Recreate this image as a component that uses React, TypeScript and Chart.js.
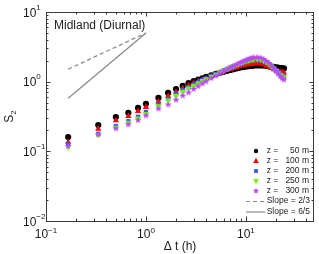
import React, { useEffect, useRef } from 'react';
import { Chart, registerables } from 'chart.js';
Chart.register(...registerables);

// time lags (hours)
const dtHours = [1 / 6, 1 / 3, 1 / 2, 2 / 3, 5 / 6, 1, 4 / 3, 5 / 3, 2, 7 / 3, 8 / 3, 3, 10 / 3, 11 / 3, 4,
  4.5, 5, 5.5, 6, 6.5, 7, 7.5, 8, 8.5, 9, 9.5, 10, 10.5, 11, 11.5, 12,
  13, 14, 15, 16, 17, 18, 19, 20, 21, 22, 23, 24];

const s50 = [0.16, 0.238, 0.31, 0.357, 0.42, 0.48, 0.585, 0.69, 0.785, 0.87, 0.95, 1.02, 1.07, 1.12, 1.17,
  1.23, 1.29, 1.34, 1.39, 1.43, 1.47, 1.51, 1.55, 1.58, 1.61, 1.63, 1.65, 1.67, 1.68, 1.69, 1.70,
  1.71, 1.71, 1.70, 1.69, 1.67, 1.65, 1.63, 1.61, 1.59, 1.57, 1.56, 1.55];
const s100 = [0.136, 0.21, 0.277, 0.32, 0.377, 0.43, 0.52, 0.62, 0.71, 0.80, 0.88, 0.95, 1.01, 1.07, 1.12,
  1.20, 1.27, 1.34, 1.40, 1.46, 1.51, 1.56, 1.61, 1.65, 1.69, 1.72, 1.75, 1.77, 1.79, 1.80, 1.81,
  1.83, 1.81, 1.76, 1.70, 1.63, 1.56, 1.50, 1.45, 1.41, 1.38, 1.36, 1.35];
const s200 = [0.126, 0.178, 0.23, 0.27, 0.313, 0.365, 0.47, 0.565, 0.66, 0.75, 0.83, 0.91, 0.98, 1.05, 1.11,
  1.20, 1.29, 1.37, 1.45, 1.52, 1.59, 1.66, 1.72, 1.78, 1.84, 1.89, 1.93, 1.97, 2.00, 2.03, 2.05,
  2.06, 2.03, 1.97, 1.88, 1.78, 1.66, 1.55, 1.45, 1.36, 1.29, 1.23, 1.19];
const s250 = [0.115, 0.172, 0.222, 0.258, 0.298, 0.345, 0.445, 0.54, 0.63, 0.72, 0.80, 0.88, 0.955, 1.025, 1.09,
  1.18, 1.27, 1.36, 1.44, 1.52, 1.60, 1.67, 1.74, 1.80, 1.86, 1.92, 1.97, 2.01, 2.05, 2.08, 2.10,
  2.11, 2.08, 2.01, 1.91, 1.79, 1.66, 1.54, 1.43, 1.33, 1.25, 1.19, 1.15];
const s300 = [0.12, 0.175, 0.213, 0.243, 0.28, 0.327, 0.41, 0.47, 0.55, 0.63, 0.70, 0.785, 0.86, 0.94, 1.01,
  1.12, 1.22, 1.32, 1.42, 1.51, 1.60, 1.68, 1.76, 1.84, 1.91, 1.98, 2.04, 2.10, 2.15, 2.19, 2.22,
  2.24, 2.20, 2.11, 1.98, 1.84, 1.69, 1.55, 1.42, 1.30, 1.20, 1.12, 1.07];

const slopeT = [1 / 6, 1];
const slope23 = [1.51, 5];
const slope65 = [0.58, 5];

const heights = ['50', '100', '200', '250', '300'];
const seriesValues = [s50, s100, s200, s250, s300];
const seriesColors = ['#000000', '#ff0000', '#3456ff', '#76f500', '#bb45ff'];
const seriesMarkers = ['circle', 'triangle', 'rect', 'invtriangle', 'star'];
const slopeLabels = ['Slope = 2/3', 'Slope = 6/5'];
const xDecades = [-1, 0, 1];
const yDecades = [-2, -1, 0, 1];
const titleText = 'Midland (Diurnal)';

const FONT = '"Liberation Sans", Arial, Helvetica, sans-serif';
const AXIS = '#3a3a3a';
const SLOPE_COLOR = '#8a8a8a';

function makeStar(r: number, color: string) {
  const c = document.createElement('canvas');
  const s = Math.ceil(r * 2 + 2);
  c.width = s;
  c.height = s;
  const g = c.getContext('2d')!;
  g.fillStyle = color;
  g.beginPath();
  for (let i = 0; i < 10; i++) {
    const ang = -Math.PI / 2 + (i * Math.PI) / 5;
    const rr = i % 2 === 0 ? r : r * 0.45;
    g.lineTo(s / 2 + rr * Math.cos(ang), s / 2 + rr * Math.sin(ang));
  }
  g.closePath();
  g.fill();
  return c;
}

function drawMarker(ctx: CanvasRenderingContext2D, kind: string, x: number, y: number, r: number, color: string) {
  ctx.save();
  ctx.fillStyle = color;
  ctx.beginPath();
  if (kind === 'circle') {
    ctx.arc(x, y, r, 0, Math.PI * 2);
  } else if (kind === 'triangle' || kind === 'invtriangle') {
    const sgn = kind === 'triangle' ? 1 : -1;
    ctx.moveTo(x, y - sgn * r);
    ctx.lineTo(x + r * 0.9, y + sgn * r * 0.6);
    ctx.lineTo(x - r * 0.9, y + sgn * r * 0.6);
    ctx.closePath();
  } else if (kind === 'rect') {
    ctx.rect(x - r, y - r, 2 * r, 2 * r);
  } else if (kind === 'star') {
    for (let i = 0; i < 10; i++) {
      const ang = -Math.PI / 2 + (i * Math.PI) / 5;
      const rr = i % 2 === 0 ? r : r * 0.45;
      ctx.lineTo(x + rr * Math.cos(ang), y + rr * Math.sin(ang));
    }
    ctx.closePath();
  }
  ctx.fill();
  ctx.restore();
}

const decorPlugin = {
  id: 'decor',
  afterDraw(chart: any) {
    const { ctx, chartArea: a, scales } = chart;
    const xs = scales.x;
    const ys = scales.y;
    ctx.save();
    // frame
    ctx.strokeStyle = AXIS;
    ctx.lineWidth = 1;
    ctx.strokeRect(Math.round(a.left) + 0.5, Math.round(a.top) + 0.5, Math.round(a.right - a.left) - 1, Math.round(a.bottom - a.top));
    // ticks
    ctx.beginPath();
    for (const d of xDecades) {
      for (let m = 1; m <= 9; m++) {
        const v = m * Math.pow(10, d);
        if (v < xs.min || v > xs.max) continue;
        const px = Math.round(xs.getPixelForValue(v)) + 0.5;
        const len = m === 1 ? 4.5 : 2.5;
        ctx.moveTo(px, a.bottom);
        ctx.lineTo(px, a.bottom - len);
        ctx.moveTo(px, a.top);
        ctx.lineTo(px, a.top + len);
      }
    }
    for (const d of yDecades) {
      for (let m = 1; m <= 9; m++) {
        const v = m * Math.pow(10, d);
        if (v < ys.min || v > ys.max) continue;
        const py = Math.round(ys.getPixelForValue(v)) + 0.5;
        const len = m === 1 ? 4.5 : 2.5;
        ctx.moveTo(a.left, py);
        ctx.lineTo(a.left + len, py);
        ctx.moveTo(a.right, py);
        ctx.lineTo(a.right - len, py);
      }
    }
    ctx.stroke();

    // tick labels
    ctx.fillStyle = '#1a1a1a';
    ctx.textBaseline = 'alphabetic';
    ctx.textAlign = 'left';
    const big = '12px ' + FONT;
    const small = '8px ' + FONT;
    const expStr = (d: number) => (d < 0 ? '\u2212' + Math.abs(d) : String(d));
    for (const d of xDecades) {
      const px = xs.getPixelForValue(Math.pow(10, d));
      ctx.font = big;
      const w1 = ctx.measureText('10').width;
      ctx.font = small;
      const w2 = ctx.measureText(expStr(d)).width;
      const start = px - (w1 + w2) / 2;
      ctx.font = big;
      ctx.fillText('10', start, a.bottom + 17);
      ctx.font = small;
      ctx.fillText(expStr(d), start + w1, a.bottom + 12);
    }
    for (const d of yDecades) {
      const py = ys.getPixelForValue(Math.pow(10, d));
      ctx.font = big;
      const w1 = ctx.measureText('10').width;
      ctx.fillText('10', 23, py + 4.5);
      ctx.font = small;
      ctx.fillText(expStr(d), 23 + w1, py - 2.5);
    }

    // title
    ctx.font = '12px ' + FONT;
    ctx.fillStyle = '#222';
    ctx.fillText(titleText, 54, 28.5);

    // x axis title
    ctx.textAlign = 'center';
    ctx.textBaseline = 'middle';
    ctx.fillText('\u0394 t (h)', (a.left + a.right) / 2, 247);

    // y axis title
    ctx.save();
    ctx.translate(9, (a.top + a.bottom) / 2);
    ctx.rotate(-Math.PI / 2);
    ctx.textAlign = 'left';
    ctx.textBaseline = 'alphabetic';
    ctx.font = '12px ' + FONT;
    const sw = ctx.measureText('S').width;
    ctx.font = '8px ' + FONT;
    const tw = ctx.measureText('2').width;
    const st = -(sw + tw) / 2;
    ctx.font = '12px ' + FONT;
    ctx.fillText('S', st, 4.3);
    ctx.font = '8px ' + FONT;
    ctx.fillText('2', st + sw, 7);
    ctx.restore();

    // legend
    const lx = 256;
    const textX = 266.7;
    const numRight = 309;
    ctx.font = '8.5px ' + FONT;
    ctx.fillStyle = '#1a1a1a';
    ctx.textBaseline = 'middle';
    const legSizes = [2.2, 3.2, 1.9, 3.2, 3.2];
    heights.forEach((h, i) => {
      const y = 151 + i * 10;
      drawMarker(ctx, seriesMarkers[i], lx, y, legSizes[i], seriesColors[i]);
      ctx.textAlign = 'left';
      ctx.fillText('z =', textX, y);
      ctx.textAlign = 'right';
      ctx.fillText(h + ' m', numRight, y);
    });
    slopeLabels.forEach((t, i) => {
      const y = 201 + i * 10.5;
      ctx.save();
      ctx.strokeStyle = SLOPE_COLOR;
      ctx.lineWidth = 1.2;
      ctx.setLineDash(i === 0 ? [4, 3] : []);
      ctx.beginPath();
      ctx.moveTo(246, y + 0.5);
      ctx.lineTo(265, y + 0.5);
      ctx.stroke();
      ctx.restore();
      ctx.textAlign = 'left';
      ctx.fillText(t, textX, y);
    });
    ctx.restore();
  },
};

export default function App() {
  const ref = useRef<HTMLCanvasElement | null>(null);
  useEffect(() => {
    if (!ref.current) return;
    const star = makeStar(3.6, seriesColors[4]);
    const styleFor = (k: string): any => (k === 'invtriangle' ? 'triangle' : k === 'star' ? star : k);
    const radiusFor = (k: string) => (k === 'circle' ? 3.1 : k === 'rect' ? 3.1 : 3.6);
    const pointSets = seriesValues.map((vals, i) => ({
      label: 'z = ' + heights[i] + ' m',
      data: dtHours.map((t, j) => ({ x: t, y: vals[j] })),
      backgroundColor: seriesColors[i],
      borderColor: seriesColors[i],
      borderWidth: 0,
      pointStyle: styleFor(seriesMarkers[i]),
      pointRotation: seriesMarkers[i] === 'invtriangle' ? 180 : 0,
      pointRadius: radiusFor(seriesMarkers[i]),
      pointBorderWidth: 0,
      showLine: false,
      order: 10 - i,
    }));
    const lineSets = [slope23, slope65].map((vals, i) => ({
      label: slopeLabels[i],
      data: slopeT.map((t, j) => ({ x: t, y: vals[j] })),
      borderColor: SLOPE_COLOR,
      backgroundColor: SLOPE_COLOR,
      borderWidth: 1.3,
      borderDash: i === 0 ? [4, 3] : [],
      pointRadius: 0,
      showLine: true,
      order: 20,
    }));
    const chart = new Chart(ref.current, {
      type: 'scatter',
      data: { datasets: [...pointSets, ...lineSets] as any },
      options: {
        animation: false,
        responsive: true,
        maintainAspectRatio: false,
        devicePixelRatio: 1,
        layout: { padding: { left: 46, top: 12, right: 5, bottom: 33 } },
        plugins: { legend: { display: false }, tooltip: { enabled: false } },
        scales: {
          x: { type: 'logarithmic', min: 0.1, max: 48, display: false },
          y: { type: 'logarithmic', min: 0.01, max: 10, display: false },
        },
      },
      plugins: [decorPlugin],
    });
    return () => chart.destroy();
  }, []);
  return (
    <div style={{ position: 'absolute', left: 0, top: 0, width: 319, height: 254, background: '#fff' }}>
      <canvas ref={ref} />
    </div>
  );
}
